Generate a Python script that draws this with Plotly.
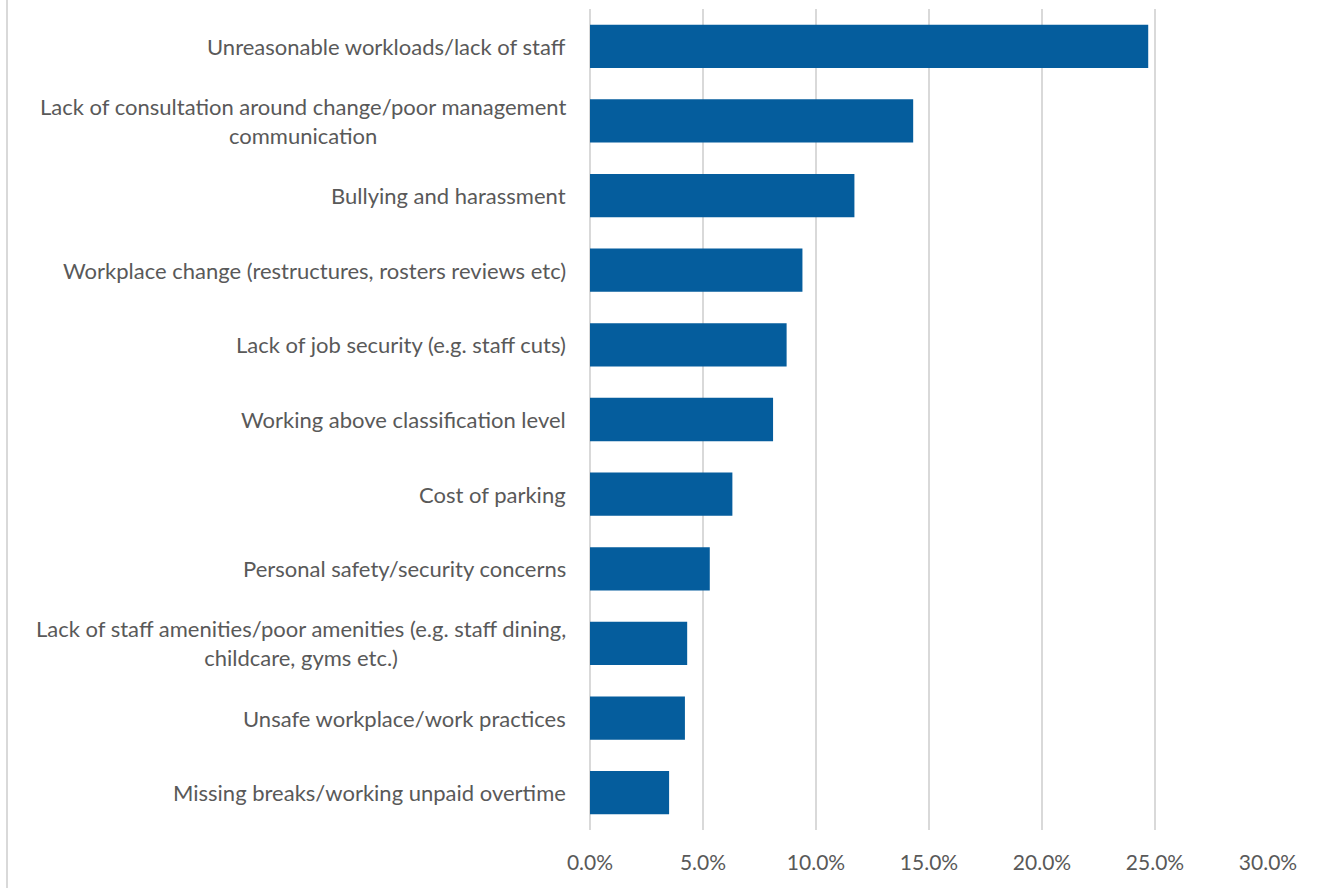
import plotly.graph_objects as go

categories = [
    "Unreasonable workloads/lack of staff",
    "Lack of consultation around change/poor management<br>communication",
    "Bullying and harassment",
    "Workplace change (restructures, rosters reviews etc)",
    "Lack of job security (e.g. staff cuts)",
    "Working above classification level",
    "Cost of parking",
    "Personal safety/security concerns",
    "Lack of staff amenities/poor amenities (e.g. staff dining,<br>childcare, gyms etc.)",
    "Unsafe workplace/work practices",
    "Missing breaks/working unpaid overtime",
]
values = [0.247, 0.143, 0.117, 0.094, 0.087, 0.081, 0.063, 0.053, 0.043, 0.042, 0.035]
x_ticks = [0, 0.05, 0.10, 0.15, 0.20, 0.25, 0.30]

W, H = 1320, 888
L, R, T, B = 590, 52, 9, 58
FONT = "Lato"
TXT = "#595959"

fig = go.Figure()
fig.add_trace(go.Bar(
    x=values, y=list(range(len(categories))), orientation="h",
    marker=dict(color="#055D9D", line=dict(width=0)),
    width=0.58, hoverinfo="x",
))

for i, c in enumerate(categories):
    fig.add_annotation(
        x=0, xref="paper", y=i, yref="y", text=c, showarrow=False,
        xanchor="right", yanchor="middle", align="center", xshift=-22,
        font=dict(family=FONT, size=22, color=TXT),
    )

fig.update_xaxes(
    range=[0, 0.30], tickvals=x_ticks, tickformat=".1%",
    showgrid=True, gridcolor="#D9D9D9", gridwidth=1.5,
    zeroline=True, zerolinecolor="#D9D9D9", zerolinewidth=2,
    showline=False, ticks="", ticklabelstandoff=18,
    tickfont=dict(family=FONT, size=21, color=TXT),
)
fig.update_yaxes(
    range=[len(categories) - 0.5, -0.5], showticklabels=False,
    showgrid=False, zeroline=False, showline=False,
)

# outer chart frame edge (left side visible)
fig.add_shape(type="line", xref="paper", yref="paper",
              x0=(7 - L) / (W - L - R), x1=(7 - L) / (W - L - R),
              y0=-B / (H - T - B), y1=(H - T) / (H - T - B) + 0.02,
              line=dict(color="#D9D9D9", width=2))

fig.update_layout(
    width=W, height=H, margin=dict(l=L, r=R, t=T, b=B),
    paper_bgcolor="white", plot_bgcolor="white", showlegend=False,
    bargap=0.42,
)

fig.write_html("out.html")
